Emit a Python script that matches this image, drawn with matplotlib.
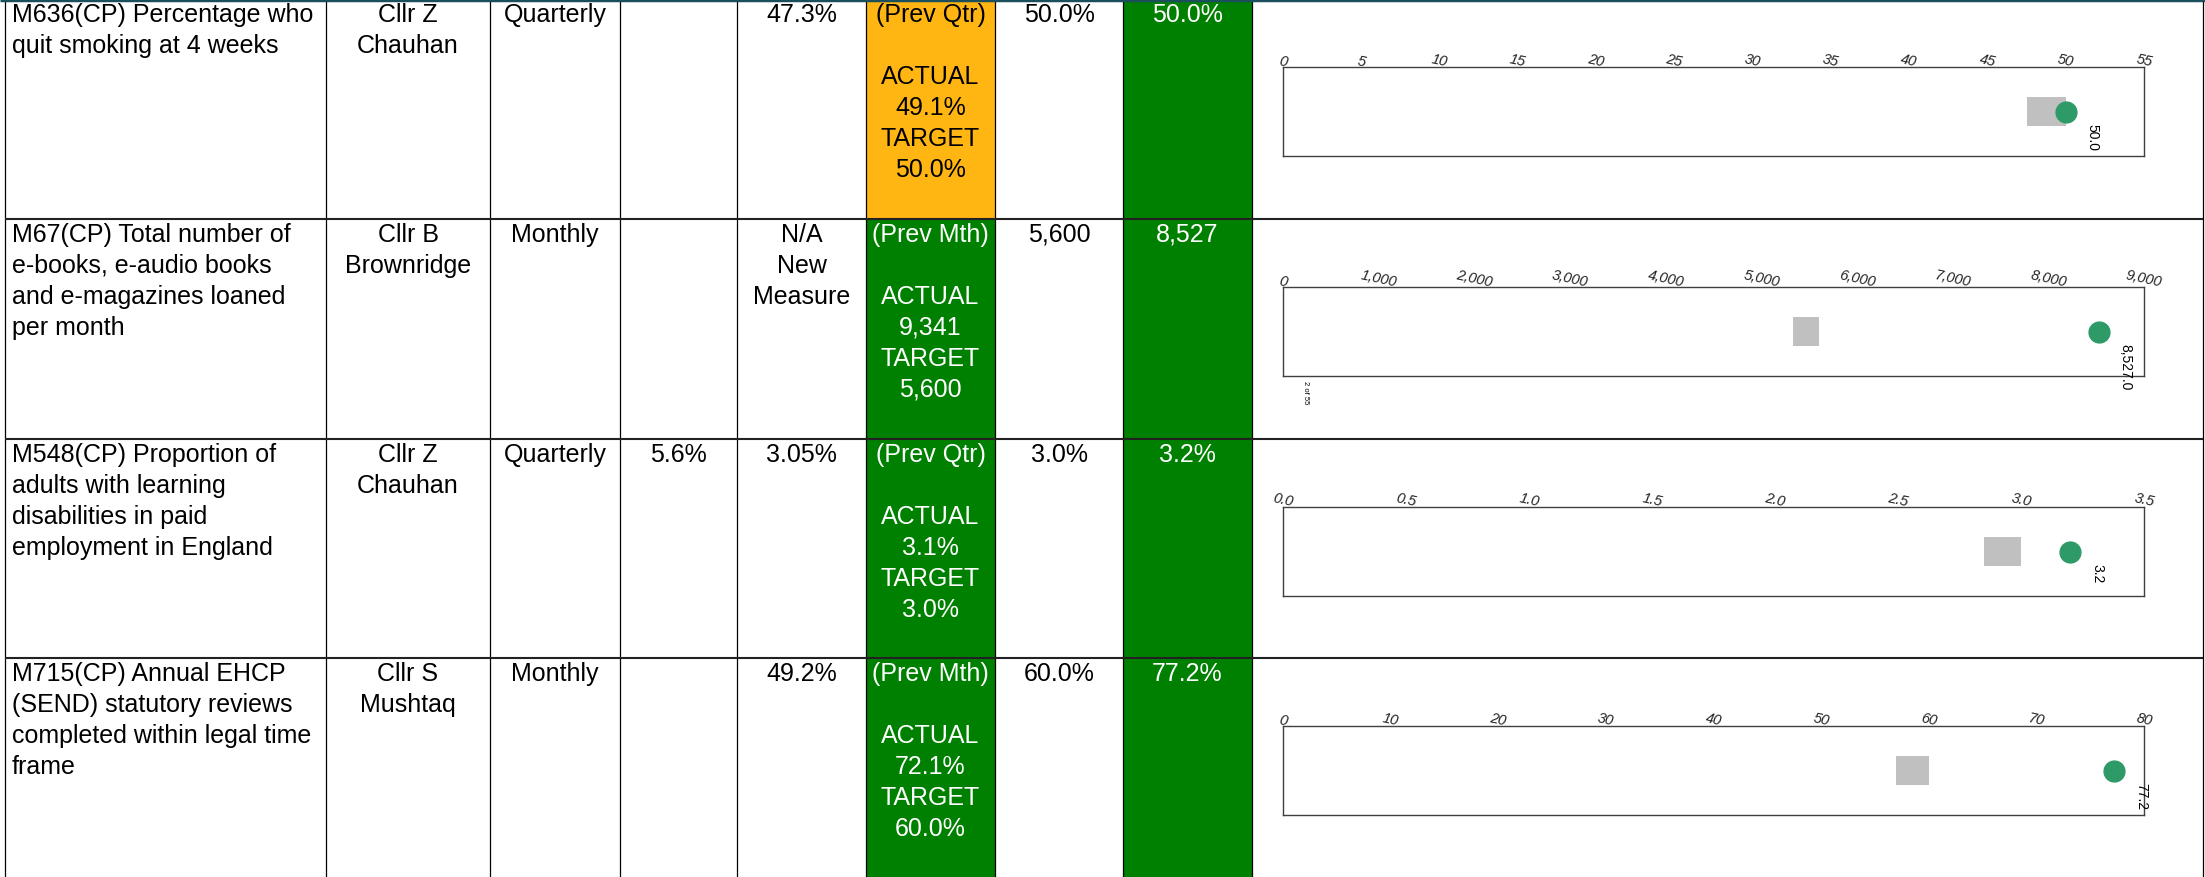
import numpy as np
import matplotlib
matplotlib.use("Agg")
import matplotlib.pyplot as plt
from matplotlib.patches import Rectangle

plt.rcParams['font.family'] = ['Liberation Sans', 'DejaVu Sans']

# table data, one entry per measure
measures = ["M636(CP) Percentage who\nquit smoking at 4 weeks",
            "M67(CP) Total number of\ne-books, e-audio books\nand e-magazines loaned\nper month",
            "M548(CP) Proportion of\nadults with learning\ndisabilities in paid\nemployment in England",
            "M715(CP) Annual EHCP\n(SEND) statutory reviews\ncompleted within legal time\nframe"]
portfolio = ["Cllr Z\nChauhan", "Cllr B\nBrownridge", "Cllr Z\nChauhan", "Cllr S\nMushtaq"]
frequency = ["Quarterly", "Monthly", "Quarterly", "Monthly"]
benchmark = ["", "", "5.6%", ""]
last_year = ["47.3%", "N/A\nNew\nMeasure", "3.05%", "49.2%"]
prev_period = ["(Prev Qtr)", "(Prev Mth)", "(Prev Qtr)", "(Prev Mth)"]
prev_actual = ["49.1%", "9,341", "3.1%", "72.1%"]
prev_target = ["50.0%", "5,600", "3.0%", "60.0%"]
prev_rag = ["amber", "green", "green", "green"]
target_txt = ["50.0%", "5,600", "3.0%", "60.0%"]
actual_txt = ["50.0%", "8,527", "3.2%", "77.2%"]

# mini chart data
actual_val = [50.0, 8527.0, 3.2, 77.2]
target_val = [50.0, 5600.0, 3.0, 60.0]
band_low = [47.5, 5330.0, 2.85, 57.0]
axis_max = [55, 9000, 3.5, 80]
tick_step = [5, 1000, 0.5, 10]
tick_fmt = ["{:.0f}", "{:,.0f}", "{:.1f}", "{:.0f}"]

W, H = 2205, 878
rag_colors = {"amber": "#ffb612", "green": "#008000"}
GREEN = "#008000"

fig = plt.figure(figsize=(W / 100, H / 100), dpi=100)
bg = fig.add_axes([0, 0, 1, 1])
bg.set_xlim(0, W)
bg.set_ylim(H, 0)
bg.axis("off")

col_x = [5, 326, 490, 620, 737, 866, 995, 1123, 1252, 2203]
row_top = [0, 220, 440, 659]
row_h = 220
fs = 18
line_gap = 31

def cell_text(col, top, txt, color="black", align="center"):
    left, right = col_x[col], col_x[col + 1]
    if align == "left":
        x, ha = left + 7, "left"
    else:
        x, ha = (left + right) / 2, "center"
    for i, line in enumerate(txt.split("\n")):
        if line:
            bg.text(x, top + 15 + i * line_gap, line, ha=ha, va="center",
                    fontsize=fs, color=color)

for r, top in enumerate(row_top):
    # coloured cells
    bg.add_patch(Rectangle((col_x[5], top), col_x[6] - col_x[5], row_h,
                           facecolor=rag_colors[prev_rag[r]], edgecolor="none"))
    bg.add_patch(Rectangle((col_x[7], top), col_x[8] - col_x[7], row_h,
                           facecolor=GREEN, edgecolor="none"))
    prev_col = "black" if prev_rag[r] == "amber" else "white"
    cell_text(0, top, measures[r], align="left")
    cell_text(1, top, portfolio[r])
    cell_text(2, top, frequency[r])
    cell_text(3, top, benchmark[r])
    cell_text(4, top, last_year[r])
    cell_text(5, top, prev_period[r] + "\n\nACTUAL\n" + prev_actual[r] +
              "\nTARGET\n" + prev_target[r], color=prev_col)
    cell_text(6, top, target_txt[r])
    cell_text(7, top, actual_txt[r], color="white")

# grid lines
bg.vlines(col_x, 0, H, color="black", lw=0.9)
bg.hlines(row_top[1:], col_x[0], col_x[-1], color="#222222", lw=1.5)
bg.hlines(1, 0, W, color="#1b4f5c", lw=2.5)

# mini bullet charts
ax_left, ax_right = 1283, 2144
for r, top in enumerate(row_top):
    t, b = top + 68, top + 157
    ax = fig.add_axes([ax_left / W, 1 - b / H, (ax_right - ax_left) / W, (b - t) / H])
    ax.set_xlim(0, axis_max[r])
    ax.set_ylim(-1, 1)
    ax.barh(0, target_val[r] - band_low[r], left=band_low[r], height=0.67,
            color="#c0c0c0")
    ax.plot(actual_val[r], 0, "o", color="#2e9a68", ms=15, zorder=3)
    ax.annotate("{:,.1f}".format(actual_val[r]), (actual_val[r], 0),
                xytext=(19.5, -8.5), textcoords="offset points",
                rotation=-90, ha="center", va="top", fontsize=10,
                annotation_clip=False)
    ticks = np.arange(0, axis_max[r] + tick_step[r] / 2, tick_step[r])
    ax.xaxis.tick_top()
    ax.set_xticks(ticks, [tick_fmt[r].format(v) for v in ticks],
                  fontstyle="italic", rotation=-12)
    ax.tick_params(axis="x", length=0, pad=-1, labelsize=10.5, colors="#222222")
    ax.set_yticks([])
    for s in ax.spines.values():
        s.set_color("#404040")
        s.set_linewidth(1.0)

fig.text(1305 / W, 1 - 381 / H, "2 of 55", rotation=-90, fontsize=5.5,
         ha="center", va="top")

fig.savefig("out.png", dpi=100)
